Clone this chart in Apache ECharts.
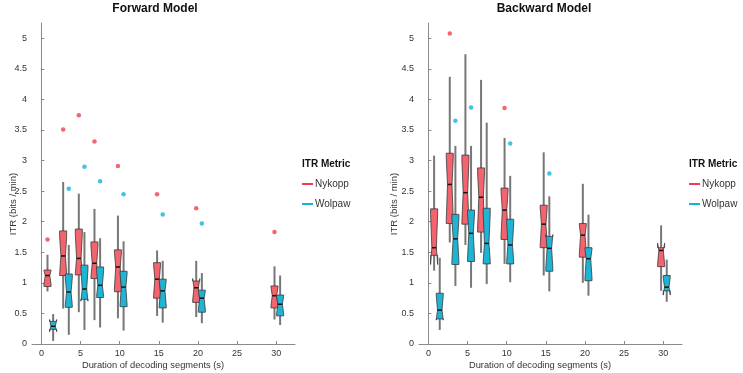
<!DOCTYPE html>
<html>
<head>
<meta charset="utf-8">
<script src="https://cdn.jsdelivr.net/npm/echarts@6/dist/echarts.min.js"></script>
<style>
  html, body { margin: 0; padding: 0; background: #fff; }
  #chart { width: 743px; height: 373px; }
</style>
</head>
<body>
<div id="chart"></div>
<script>
// decoding segment durations (s)
const groups = [1, 3, 5, 7, 10, 15, 20, 30];
const xTicks = [0, 5, 10, 15, 20, 25, 30];
const yTicks = [0, 0.5, 1, 1.5, 2, 2.5, 3, 3.5, 4, 4.5, 5];
const metrics = ["Nykopp", "Wolpaw"];

// one row per duration: [whisker low, q1, median, q3, whisker high, notch low, notch high]
const fwdNykopp = [
  [0.86, 0.94, 1.12, 1.21, 1.46, 0.98, 1.20],
  [0.58, 1.12, 1.44, 1.85, 2.65, 1.14, 1.76],
  [0.52, 1.13, 1.40, 1.88, 2.46, 1.15, 1.80],
  [0.39, 1.07, 1.32, 1.67, 2.21, 1.09, 1.60],
  [0.42, 0.855, 1.26, 1.54, 2.10, 0.90, 1.50],
  [0.46, 0.75, 1.06, 1.33, 1.53, 0.79, 1.30],
  [0.44, 0.68, 0.92, 1.03, 1.36, 0.72, 1.07],
  [0.40, 0.59, 0.79, 0.95, 1.27, 0.62, 0.93]
];
const fwdWolpaw = [
  [0.05, 0.24, 0.29, 0.37, 0.49, 0.20, 0.40],
  [0.15, 0.60, 0.85, 1.145, 1.62, 0.63, 1.08],
  [0.23, 0.73, 0.90, 1.29, 1.83, 0.70, 1.22],
  [0.27, 0.76, 0.96, 1.26, 1.73, 0.78, 1.20],
  [0.22, 0.61, 0.93, 1.19, 1.68, 0.64, 1.15],
  [0.35, 0.59, 0.87, 1.06, 1.36, 0.62, 1.04],
  [0.34, 0.52, 0.75, 0.88, 1.16, 0.55, 0.87],
  [0.31, 0.46, 0.65, 0.80, 1.12, 0.49, 0.78]
];
const bwdNykopp = [
  [1.20, 1.45, 1.575, 2.21, 3.08, 1.30, 2.12],
  [1.66, 1.97, 2.61, 3.12, 4.37, 2.02, 3.05],
  [1.62, 1.96, 2.475, 3.09, 4.74, 2.00, 3.00],
  [1.49, 1.83, 2.40, 2.88, 4.32, 1.87, 2.82],
  [1.31, 1.71, 2.19, 2.55, 3.37, 1.75, 2.50],
  [1.12, 1.575, 1.96, 2.27, 3.135, 1.61, 2.23],
  [1.00, 1.42, 1.78, 1.97, 2.62, 1.46, 1.95],
  [0.87, 1.265, 1.53, 1.575, 1.94, 1.30, 1.65]
];
const bwdWolpaw = [
  [0.23, 0.41, 0.555, 0.83, 1.41, 0.39, 0.80],
  [0.95, 1.30, 1.72, 2.12, 3.24, 1.35, 2.06],
  [0.92, 1.35, 1.81, 2.19, 3.24, 1.40, 2.14],
  [0.98, 1.31, 1.645, 2.22, 3.62, 1.35, 2.14],
  [1.01, 1.31, 1.62, 2.04, 2.75, 1.35, 1.98],
  [0.86, 1.19, 1.565, 1.76, 2.415, 1.24, 1.79],
  [0.79, 1.035, 1.395, 1.575, 2.115, 1.08, 1.55],
  [0.69, 0.87, 0.93, 1.12, 1.38, 0.80, 1.09]
];

// outlier per duration (null = none)
const fwdNykoppOut = [1.71, 3.51, 3.74, 3.31, 2.91, 2.45, 2.22, 1.83];
const fwdWolpawOut = [null, 2.54, 2.90, 2.66, 2.45, 2.12, 1.97, null];
const bwdNykoppOut = [null, 5.08, null, null, 3.86, null, null, null];
const bwdWolpawOut = [null, 3.65, 3.87, null, 3.28, 2.79, null, null];

const RED_FILL = "#f3646e";
const RED_DOT = "#f23d4e";
const CYAN_FILL = "#1fb4d4";
const CYAN_DOT = "#11b5d8";
const AXIS = "#8a8a8a";
const TXT = "#333";
const FONT = "Liberation Sans, Arial, sans-serif";

const NYK_SHIFT = -0.22;
const WOL_SHIFT = 0.5;
const HALF_W = 0.45;

/* ── notched box drawn as a custom series ── */
function boxSeries(name, rows, shift, panel, fill) {
  return {
    name: name,
    type: "custom",
    xAxisIndex: panel,
    yAxisIndex: panel,
    itemStyle: { color: fill },
    data: rows.map((r, i) => [groups[i] + shift].concat(r)),
    encode: { x: 0, y: [1, 5] },
    renderItem: (params, api) => {
      const x = api.value(0);
      const Y = (v) => api.coord([x, v])[1];
      const pL = api.coord([x - HALF_W, 0])[0];
      const pR = api.coord([x + HALF_W, 0])[0];
      const pC = api.coord([x, 0])[0];
      const inset = (pR - pL) * 0.18;
      const q1 = Y(api.value(2)), med = Y(api.value(3)), q3 = Y(api.value(4));
      const nLo = Y(api.value(6)), nHi = Y(api.value(7));
      const pts = [
        [pL, q1], [pL, nLo], [pL + inset, med], [pL, nHi], [pL, q3],
        [pR, q3], [pR, nHi], [pR - inset, med], [pR, nLo], [pR, q1]
      ];
      return {
        type: "group",
        children: [
          {
            type: "line",
            shape: { x1: pC, y1: Y(api.value(1)), x2: pC, y2: Y(api.value(5)) },
            style: { stroke: "#777", lineWidth: 2 }
          },
          {
            type: "polygon",
            shape: { points: pts },
            style: { fill: fill, stroke: "#3a3a3a", lineWidth: 0.8 }
          },
          {
            type: "line",
            shape: { x1: pL + inset, y1: med, x2: pR - inset, y2: med },
            style: { stroke: "#111", lineWidth: 1.5 }
          }
        ]
      };
    }
  };
}

function outlierSeries(name, vals, shift, panel, color) {
  return {
    name: name,
    type: "scatter",
    xAxisIndex: panel,
    yAxisIndex: panel,
    symbolSize: 4.5,
    itemStyle: { color: color },
    data: vals.map((v, i) => (v == null ? null : [groups[i] + shift, v])).filter((d) => d),
    z: 5
  };
}

const xAxisBase = (gi) => ({
  type: "value",
  gridIndex: gi,
  min: -1.2,
  max: 32.4,
  splitLine: { show: false },
  axisLine: { lineStyle: { color: AXIS, width: 1 } },
  axisTick: { inside: true, length: 3, customValues: xTicks, lineStyle: { color: AXIS } },
  axisLabel: { customValues: xTicks, fontSize: 9, color: TXT, margin: 5, fontFamily: FONT }
});
const yAxisBase = (gi) => ({
  type: "value",
  gridIndex: gi,
  min: 0,
  max: 5.25,
  splitLine: { show: false },
  axisLine: { show: true, lineStyle: { color: AXIS, width: 1 } },
  axisTick: { show: true, inside: true, length: 3, customValues: yTicks, lineStyle: { color: AXIS } },
  axisLabel: { customValues: yTicks, fontSize: 9, color: TXT, margin: 5, fontFamily: FONT }
});

const legendBase = (left) => ({
  left: left,
  top: 179,
  padding: 0,
  orient: "vertical",
  icon: "rect",
  itemWidth: 11,
  itemHeight: 2,
  itemGap: 10,
  data: [
    { name: metrics[0], itemStyle: { color: RED_DOT } },
    { name: metrics[1], itemStyle: { color: CYAN_DOT } }
  ],
  textStyle: { fontSize: 10, color: TXT, fontFamily: FONT, padding: [0, 0, 0, -3] }
});

const chart = echarts.init(document.getElementById("chart"));
chart.setOption({
  backgroundColor: "#fff",
  animation: false,
  title: [
    { text: "Forward Model", left: 155, top: 3, padding: 0, textAlign: "center",
      textStyle: { fontSize: 12, fontWeight: "bold", color: "#111", fontFamily: FONT } },
    { text: "Backward Model", left: 544, top: 3, padding: 0, textAlign: "center",
      textStyle: { fontSize: 12, fontWeight: "bold", color: "#111", fontFamily: FONT } },
    { text: "ITR Metric", left: 302, top: 159, padding: 0,
      textStyle: { fontSize: 10, fontWeight: "bold", color: "#111", fontFamily: FONT } },
    { text: "ITR Metric", left: 689, top: 159, padding: 0,
      textStyle: { fontSize: 10, fontWeight: "bold", color: "#111", fontFamily: FONT } }
  ],
  legend: [legendBase(302), legendBase(689)],
  grid: [
    { left: 32, top: 23, width: 263, height: 321 },
    { left: 419, top: 23, width: 263, height: 321 }
  ],
  xAxis: [xAxisBase(0), xAxisBase(1)],
  yAxis: [yAxisBase(0), yAxisBase(1)],
  graphic: [
    { type: "text", x: 13, y: 204, rotation: Math.PI / 2,
      style: { text: "ITR (bits / min)", fill: TXT, font: "9.5px " + FONT, align: "center", verticalAlign: "middle" } },
    { type: "text", x: 394, y: 204, rotation: Math.PI / 2,
      style: { text: "ITR (bits / min)", fill: TXT, font: "9.5px " + FONT, align: "center", verticalAlign: "middle" } },
    { type: "text", x: 153, y: 365,
      style: { text: "Duration of decoding segments (s)", fill: TXT, font: "9.3px " + FONT, align: "center", verticalAlign: "middle" } },
    { type: "text", x: 540, y: 365,
      style: { text: "Duration of decoding segments (s)", fill: TXT, font: "9.3px " + FONT, align: "center", verticalAlign: "middle" } }
  ],
  series: [
    boxSeries(metrics[0], fwdNykopp, NYK_SHIFT, 0, RED_FILL),
    boxSeries(metrics[1], fwdWolpaw, WOL_SHIFT, 0, CYAN_FILL),
    boxSeries(metrics[0], bwdNykopp, NYK_SHIFT - 0.05, 1, RED_FILL),
    boxSeries(metrics[1], bwdWolpaw, WOL_SHIFT - 0.05, 1, CYAN_FILL),
    outlierSeries("Nykopp outliers", fwdNykoppOut, NYK_SHIFT, 0, RED_DOT),
    outlierSeries("Wolpaw outliers", fwdWolpawOut, WOL_SHIFT, 0, CYAN_DOT),
    outlierSeries("Nykopp outliers", bwdNykoppOut, NYK_SHIFT - 0.05, 1, RED_DOT),
    outlierSeries("Wolpaw outliers", bwdWolpawOut, WOL_SHIFT - 0.05, 1, CYAN_DOT)
  ]
});
</script>
</body>
</html>
